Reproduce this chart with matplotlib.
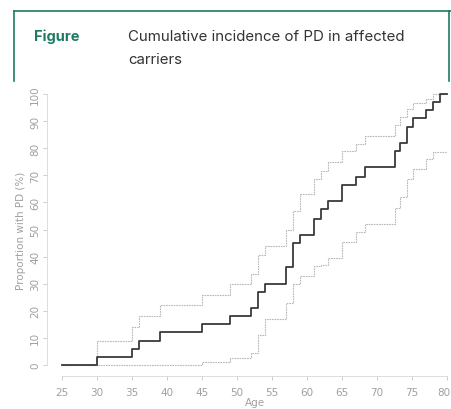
import matplotlib
matplotlib.use('Agg')
from matplotlib import pyplot as plt
from matplotlib.lines import Line2D
import matplotlib.transforms as mtransforms

# ages where the curves step (last one is end of follow-up)
ages = [25, 30, 35, 36, 39, 45, 49, 52, 53, 54, 57, 58, 59, 61, 62, 63, 65, 67, 68.3,
        72.5, 73.3, 74.3, 75.2, 77, 78, 79, 80]
# cumulative incidence (%)
incidence = [0, 3, 6, 9, 12, 15, 18, 21, 27, 30, 36, 45, 48, 54, 57.5, 60.5, 66.5, 69.5, 73,
             79, 82, 88, 91, 94, 97, 100, 100]
# 95% CI
upper_ci = [0, 9, 14, 18, 22, 26, 30, 33.5, 40.5, 44, 50, 57, 63, 68.5, 71.5, 75, 79, 81.5, 84.5,
            88.5, 91.5, 94.5, 96.5, 98, 100, 100, 100]
lower_ci = [0, 0, 0, 0, 0, 1, 2.5, 4.5, 11, 17, 23, 30, 33, 36.5, 37, 39.5, 45.5, 49, 52,
            58, 62, 68.5, 72.5, 76, 78.5, 78.5, 78.5]

x_ticks = list(range(25, 81, 5))
y_ticks = list(range(0, 101, 10))

W, H = 451, 410
fig = plt.figure(figsize=(W / 100, H / 100), dpi=100)

# header box
teal = '#1f7a63'
fig.add_artist(Line2D([14 / W, 1.0], [1 - 12 / H, 1 - 12 / H], color=teal, lw=1.2, transform=fig.transFigure))
fig.add_artist(Line2D([14 / W, 14 / W], [1 - 12 / H, 1 - 82 / H], color=teal, lw=1.2, transform=fig.transFigure))
fig.add_artist(Line2D([449 / W, 449 / W], [1 - 12 / H, 1 - 82 / H], color=teal, lw=1.2, transform=fig.transFigure))
fig.text(34 / W, 1 - 37 / H, 'Figure', color=teal, fontsize=10.5, fontweight='bold',
         family='Inter', va='center', ha='left')
fig.text(128 / W, 1 - 37 / H, 'Cumulative incidence of PD in affected', color='#333333',
         fontsize=10.8, family='Inter', va='center', ha='left')
fig.text(128 / W, 1 - 60 / H, 'carriers', color='#333333',
         fontsize=10.8, family='Inter', va='center', ha='left')

# plot area: age 25 -> x=62px, 80 -> x=447px ; 0% -> y=366px, 100% -> y=95px
ax = fig.add_axes([62 / W, (H - 366) / H, 385 / W, 271 / H])
ax.set_xlim(25, 80)
ax.set_ylim(0, 100)

ax.step(ages, upper_ci, where='post', color='#b8b8b8', lw=0.8, linestyle=(0, (1.5, 0.8)), clip_on=False)
ax.step(ages, lower_ci, where='post', color='#b8b8b8', lw=0.8, linestyle=(0, (1.5, 0.8)), clip_on=False)
ax.step(ages, incidence, where='post', color='#3a3a3a', lw=1.3, clip_on=False)

grey = '#a0a0a0'
for s in ['top', 'right']:
    ax.spines[s].set_visible(False)
ax.spines['left'].set_position(('outward', 10.8))
ax.spines['bottom'].set_position(('outward', 7.9))
ax.spines['left'].set_bounds(0, 100)
ax.spines['bottom'].set_bounds(25, 80)
for s in ['left', 'bottom']:
    ax.spines[s].set_color('#d8d8d8')
    ax.spines[s].set_linewidth(0.6)

ax.set_xticks(x_ticks)
ax.set_yticks(y_ticks)
ax.tick_params(axis='both', colors='#c8c8c8', labelcolor=grey, labelsize=7.5, length=3, width=0.6)
ax.tick_params(axis='x', pad=5)
ax.tick_params(axis='y', pad=2)
for lab in ax.get_yticklabels():
    lab.set_rotation(90)
    lab.set_va('center')
# keep the last age label inside the picture
last = ax.get_xticklabels()[-1]
last.set_transform(last.get_transform() + mtransforms.ScaledTranslation(-3 / 100, 0, fig.dpi_scale_trans))

ax.set_xlabel('Age', color=grey, fontsize=7.5, labelpad=0)
ax.set_ylabel('Proportion with PD (%)', color=grey, fontsize=7.5, labelpad=3)

plt.savefig('out.png', dpi=100)
